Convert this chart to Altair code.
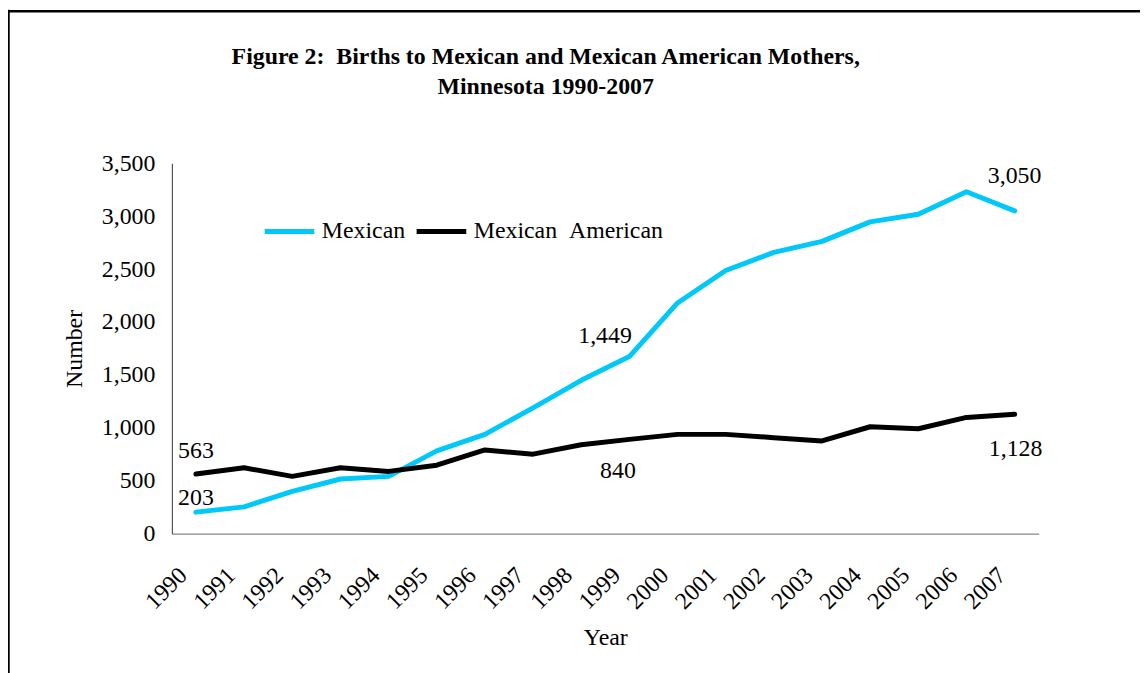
import altair as alt
import pandas as pd

years = [str(y) for y in range(1990, 2008)]
mexican = [203, 253, 400, 516, 541, 782, 938, 1189, 1449, 1673, 2180, 2487, 2658, 2762, 2946, 3018, 3231, 3050]
mexican_american = [563, 622, 541, 622, 588, 647, 791, 751, 840, 891, 938, 938, 907, 876, 1010, 991, 1098, 1128]
series_names = ["Mexican", "Mexican\u00a0\u00a0American"]
colors = ["#00C8F8", "#000000"]
title_lines = ["Figure 2:\u00a0\u00a0Births to Mexican and Mexican American Mothers,", "Minnesota 1990-2007"]
y_ticks = [0, 500, 1000, 1500, 2000, 2500, 3000, 3500]

rows = []
for name, vals in zip(series_names, [mexican, mexican_american]):
    for yr, v in zip(years, vals):
        rows.append({"year": yr, "value": v, "series": name})
df = pd.DataFrame(rows)

FONT = "Liberation Serif"
FS = 24

x_enc = alt.X(
    "year:O",
    sort=years,
    title="Year",
    axis=alt.Axis(
        labelAngle=-45, labelAlign="right", labelBaseline="middle",
        labelPadding=38, labelOffset=-13, ticks=False,
        domainColor="#868686", domainWidth=1.2,
        labelFont=FONT, labelFontSize=FS, labelColor="black",
        titleFont=FONT, titleFontSize=FS, titleFontWeight="normal", titleColor="black",
        titlePadding=12,
    ),
)
y_enc = alt.Y(
    "value:Q",
    title="Number",
    scale=alt.Scale(domain=[0, 3500], nice=False),
    axis=alt.Axis(
        values=y_ticks, format=",d", grid=False, ticks=False,
        domainColor="#333333", domainWidth=1,
        labelPadding=17, labelFont=FONT, labelFontSize=FS, labelColor="black",
        titleFont=FONT, titleFontSize=FS, titleFontWeight="normal", titleColor="black",
        titlePadding=15,
    ),
)

base = alt.Chart(df)

lines = base.mark_line(strokeWidth=5, strokeCap="round", strokeJoin="round").encode(
    x=x_enc,
    y=y_enc,
    color=alt.Color(
        "series:N",
        scale=alt.Scale(domain=series_names, range=colors),
        legend=alt.Legend(
            title=None, orient="none", legendX=91, legendY=41, direction="horizontal",
            symbolType="stroke", symbolSize=2500, symbolStrokeWidth=5,
            labelFont=FONT, labelFontSize=FS, labelColor="black", labelLimit=0,
            labelOffset=5, columnPadding=1, padding=0,
        ),
    ),
)

def label(series, year, dx, dy):
    return base.transform_filter(
        (alt.datum.series == series) & (alt.datum.year == year)
    ).mark_text(font=FONT, fontSize=FS, color="black", dx=dx, dy=dy, baseline="middle").encode(
        x=x_enc,
        y=y_enc,
        text=alt.Text("value:Q", format=","),
    )

labels = [
    label(series_names[1], "1990", 0, -23),
    label(series_names[0], "1990", 0, -14),
    label(series_names[0], "1998", 24, -45),
    label(series_names[1], "1998", 37, 26),
    label(series_names[0], "2007", 0, -35),
    label(series_names[1], "2007", 1, 35),
]

one = pd.DataFrame({"k": [0]})
frame_left = alt.Chart(one).mark_rule(stroke="black", strokeWidth=2.5).encode(
    x=alt.value(-164.5), y=alt.value(-154.5), y2=alt.value(560),
)
frame_top = alt.Chart(one).mark_rule(stroke="black", strokeWidth=2.5).encode(
    x=alt.value(-165.5), x2=alt.value(1000), y=alt.value(-153),
)

title_marks = [
    alt.Chart(pd.DataFrame({"t": [title_lines[0]]})).mark_text(
        font=FONT, fontSize=24, fontWeight="bold", color="black", align="center", baseline="middle"
    ).encode(x=alt.value(376.5), y=alt.value(-107), text="t:N"),
    alt.Chart(pd.DataFrame({"t": [title_lines[1]]})).mark_text(
        font=FONT, fontSize=24, fontWeight="bold", color="black", align="center", baseline="middle"
    ).encode(x=alt.value(376.5), y=alt.value(-77), text="t:N"),
]

chart = alt.layer(frame_left, frame_top, *title_marks, lines, *labels).properties(
    width=873,
    height=373,
    autosize=alt.AutoSizeParams(type="none"),
    padding={"left": 165, "top": 154, "right": 102, "bottom": 138},
    background="white",
).configure_view(strokeWidth=0, stroke="transparent")

chart.save("out.html", embed_options={"renderer": "svg", "actions": False})
